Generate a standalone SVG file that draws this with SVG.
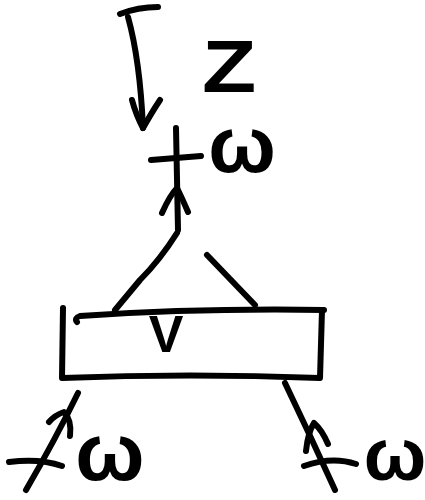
<svg xmlns="http://www.w3.org/2000/svg" width="425" height="500" viewBox="0 0 425 500">
<style>
.s{fill:none;stroke:#000;stroke-width:6;stroke-linecap:round;stroke-linejoin:round}
.t{font-family:"Liberation Sans",Arial,sans-serif;fill:#000;font-weight:bold}
</style>
<rect width="425" height="500" fill="#fff"/>
<g id="connectors">
<path class="s" d="M120,14 Q138,7 158,7"/>
<path class="s" d="M128,17 Q140,60 143,128"/>
<path class="s" d="M132,100 Q136,115 143,128 Q152,112 160,100"/>
<path class="s" d="M176,128 L178,230"/>
<path class="s" d="M151,160 L201,156"/>
<path class="s" d="M162,213 Q170,195 177,188 Q182,198 188,212"/>
<path class="s" d="M177,233 Q160,260 140,280 L115,310"/>
<path class="s" d="M207,255 L255,305"/>
<path class="s" d="M78,393 Q55,440 26,490"/>
<path class="s" d="M9,462 Q40,458 62,466"/>
<path class="s" d="M49,422 Q55,415 64,412 Q72,420 70,436"/>
<path class="s" d="M285,383 Q310,435 335,490"/>
<path class="s" d="M304,466 Q332,456 356,464"/>
<path class="s" d="M306,451 Q308,432 314,423 Q322,430 328,444"/>
</g>
<g id="box">
<path class="s" d="M63,308 L62,378 Q190,373 320,378 L322,310"/>
<path class="s" d="M77,322 Q74,318 80,316 Q200,308 324,310"/>
<text class="t" x="166" y="352" font-size="52" text-anchor="middle">V</text>
</g>
<g id="label-z"><text class="t" x="0" y="0" font-size="74" text-anchor="middle" transform="translate(229,92) scale(1.2,1)">Z</text></g>
<g id="label-w-top"><text class="t" x="242" y="172" font-size="80" text-anchor="middle">ω</text></g>
<g id="label-w-left"><text class="t" x="110" y="480" font-size="82" text-anchor="middle">ω</text></g>
<g id="label-w-right"><text class="t" x="395" y="480" font-size="74" text-anchor="middle">ω</text></g>
</svg>
